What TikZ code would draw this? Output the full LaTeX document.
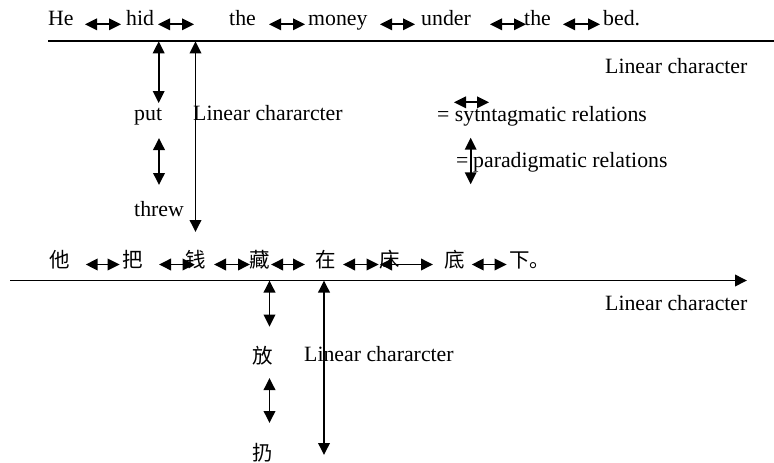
\documentclass[tikz,border=0pt]{standalone}
\usepackage{fontspec}
\setmainfont{Liberation Serif}
\newfontfamily\cjk{Noto Sans CJK SC}
\usetikzlibrary{arrows.meta}
\begin{document}
\begin{tikzpicture}[x=1pt,y=-1pt,
  txt/.style={anchor=base west,inner sep=0pt,font=\fontsize{21.8}{24}\selectfont},
  zh/.style={anchor=base west,inner sep=0pt,font=\cjk\fontsize{20.5}{24}\selectfont},
  rel/.style={line width=1.9pt,{Triangle[length=12pt,width=11.5pt]}-{Triangle[length=12pt,width=11.5pt]}},
  axis/.style={line width=1.9pt,-{Triangle[length=12pt,width=11.5pt]}}]
\useasboundingbox (0,0) rectangle (774,463);
% ---------- English ----------
\node[txt] (e1) at (48,25.5) {He};
\node[txt] (e2) at (126,25.5) {hid};
\node[txt] (e3) at (229,25.5) {the};
\node[txt] (e4) at (308,25.5) {money};
\node[txt] (e5) at (421,25.5) {under};
\node[txt] (e6) at (524,25.5) {the};
\node[txt] (e7) at (603,25.5) {bed.};
\coordinate (h1a) at (85,24.3);  \coordinate (h1b) at (121,24.3);
\coordinate (h2a) at (158,24.3); \coordinate (h2b) at (194,24.3);
\coordinate (h3a) at (269,24.3); \coordinate (h3b) at (305,24.3);
\coordinate (h4a) at (380,24.3); \coordinate (h4b) at (415,24.3);
\coordinate (h5a) at (490,24.3); \coordinate (h5b) at (526,24.3);
\coordinate (h6a) at (563,24.3); \coordinate (h6b) at (600,24.3);
\foreach \i in {1,...,6} {\draw[rel] (h\i a) -- (h\i b);}
\coordinate (ax1s) at (48,41.3); \coordinate (ax1e) at (786,41.3);
\draw[axis] (ax1s) -- (ax1e);
\node[txt] (lc1) at (605,73.3) {Linear character};
\node[txt] (put) at (134,120.7) {put};
\node[txt] (lcr1) at (193,120.7) {Linear chararcter};
\node[txt] (threw) at (134,216.7) {threw};
\coordinate (v1a) at (158.7,41.3); \coordinate (v1b) at (158.7,103);
\coordinate (v2a) at (159,138);    \coordinate (v2b) at (159,185);
\coordinate (v3a) at (195.5,41.3); \coordinate (v3b) at (195.5,232);
\draw[rel] (v1a) -- (v1b);
\draw[rel] (v2a) -- (v2b);
\draw[rel] (v3a) -- (v3b);
% ---------- legend ----------
\node[txt] (leg1) at (437,121) {= sytntagmatic relations};
\coordinate (lh1) at (454,102.3); \coordinate (lh2) at (489,102.3);
\draw[rel] (lh1) -- (lh2);
\node[txt] (leg2eq) at (456,167) {=};
\node[txt] (leg2) at (473,167) {paradigmatic relations};
\coordinate (lv1) at (470.7,137.7); \coordinate (lv2) at (470.7,184.3);
\draw[rel] (lv1) -- (lv2);
% ---------- Chinese ----------
\node[zh] (z1) at (49,267) {他};
\node[zh] (z2) at (122,267) {把};
\node[zh] (z3) at (185,267) {钱};
\node[zh] (z4) at (249,267) {藏};
\node[zh] (z5) at (315,267) {在};
\node[zh] (z6) at (379,267) {床};
\node[zh] (z7) at (444,267) {底};
\node[zh] (z8) at (509,267) {下。};
\coordinate (c1a) at (85.7,264.5); \coordinate (c1b) at (119.6,264.5);
\coordinate (c2a) at (159,264.5);  \coordinate (c2b) at (194.6,264.5);
\coordinate (c3a) at (214,264.5);  \coordinate (c3b) at (250,264.5);
\coordinate (c4a) at (271,264.5);  \coordinate (c4b) at (305,264.5);
\coordinate (c5a) at (343,264.5);  \coordinate (c5b) at (378.6,264.5);
\coordinate (c6a) at (380,264.5);  \coordinate (c6b) at (433,264.5);
\coordinate (c7a) at (471.7,264.5);\coordinate (c7b) at (506.7,264.5);
\foreach \i in {1,...,7} {\draw[rel] (c\i a) -- (c\i b);}
\coordinate (ax2s) at (10,280.5); \coordinate (ax2e) at (747,280.5);
\draw[axis] (ax2s) -- (ax2e);
\node[txt] (lc2) at (605,310) {Linear character};
\node[zh] (fang) at (252,363) {放};
\node[zh] (reng) at (252,460) {扔};
\node[txt] (lcr2) at (304,361.7) {Linear chararcter};
\coordinate (u1a) at (269.5,280.5); \coordinate (u1b) at (269.5,326.7);
\coordinate (u2a) at (269.5,378);   \coordinate (u2b) at (269.5,423);
\coordinate (u3a) at (324,280.5);   \coordinate (u3b) at (324,455);
\draw[rel] (u1a) -- (u1b);
\draw[rel] (u2a) -- (u2b);
\draw[rel] (u3a) -- (u3b);
\end{tikzpicture}
\end{document}
